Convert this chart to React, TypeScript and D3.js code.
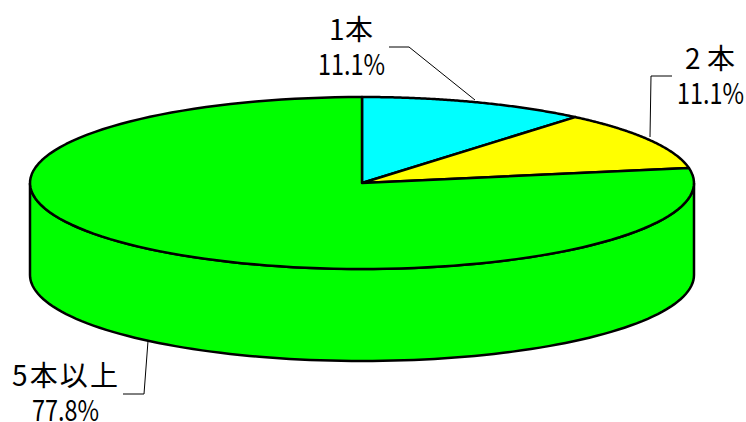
import * as d3 from 'd3'

const categories = ['1本', '2本', '5本以上']
const percents = ['11.1%', '11.1%', '77.8%']
const shares = [11.1, 11.1, 77.8]
const colors = ['#00ffff', '#ffff00', '#00ff00']

const width = 746
const height = 422
const cx = 362
const cy = 183
const rx = 332
const ry = 86
const depth = 92

// pie layout angles, 0 at 12 o'clock, clockwise
const arcs = d3.pie<number>().sort(null)(shares)
const px = (a: number) => cx + rx * Math.sin(a)
const py = (a: number) => cy - ry * Math.cos(a)

const slicePath = (start: number, end: number) => {
  const steps = d3.range(0, 121).map(i => start + (end - start) * i / 120)
  const line = d3.line<number>().x(px).y(py)
  return `M${cx},${cy}L${line(steps)!.slice(1)}Z`
}

const sidePath = () => {
  const top = d3.range(0, 101).map(i => [cx + rx * Math.cos(Math.PI * i / 100), cy + ry * Math.sin(Math.PI * i / 100)] as [number, number])
  const bottom = top.map(([x, y]) => [x, y + depth] as [number, number]).reverse()
  return d3.line()([...top, ...bottom])! + 'Z'
}

// hand placed label boxes and leader lines
const labels = [
  { x: 329, y: 40, w: 44, subX: 318, subY: 75, leader: [[389, 47], [409, 47], [475, 100]] },
  { x: 685, y: 69, w: 50, subX: 677, subY: 104, leader: [[672, 76], [651, 76], [650, 137]] },
  { x: 12, y: 386, w: 106, subX: 32, subY: 421, leader: [[123, 394], [144, 394], [148, 341]] }
]

const font = "'Noto Sans CJK JP', 'Liberation Sans', sans-serif"

export default function App() {
  return (
    <svg width={width} height={height} style={{ position: 'absolute', left: 0, top: 0, background: '#fff' }}>
      <path d={sidePath()} fill={colors[2]} stroke="#000" strokeWidth={2.5} />
      {arcs.map((d, i) => (
        <path key={i} d={slicePath(d.startAngle, d.endAngle)} fill={colors[i]} stroke="#000" strokeWidth={2.5} strokeLinejoin="round" />
      ))}
      {labels.map((l, i) => (
        <g key={i}>
          <polyline points={l.leader.join(' ')} fill="none" stroke="#000" strokeWidth={1} />
          <text x={l.x} y={l.y} fontFamily={font} fontSize={28} textLength={l.w} lengthAdjust="spacing">{categories[i]}</text>
          <text x={l.subX} y={l.subY} fontFamily={font} fontSize={29} textLength={67} lengthAdjust="spacingAndGlyphs">{percents[i]}</text>
        </g>
      ))}
    </svg>
  )
}
